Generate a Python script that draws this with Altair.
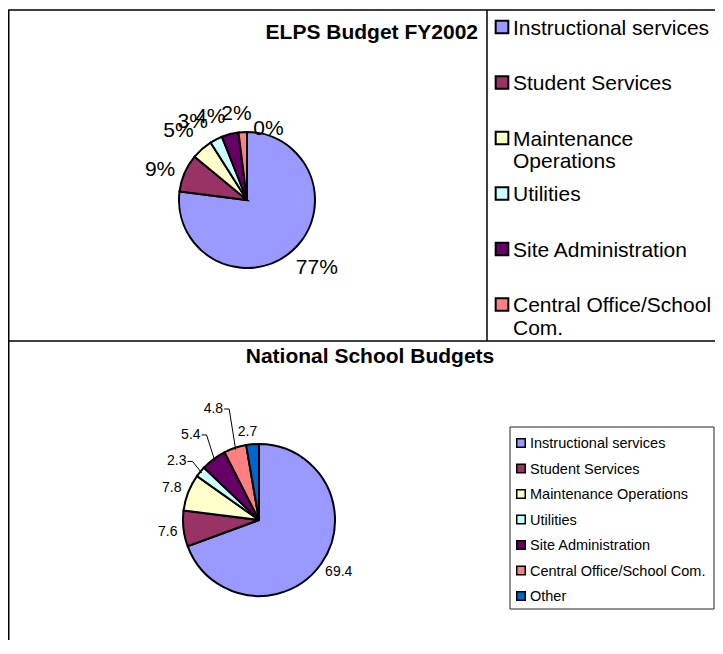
import math
import altair as alt
import pandas as pd

# ---------------- data ----------------
categories = ["Instructional services", "Student Services", "Maintenance Operations",
              "Utilities", "Site Administration", "Central Office/School Com.", "Other"]
elps_pct = [77, 9, 5, 3, 4, 2, 0]
national = [69.4, 7.6, 7.8, 2.3, 5.4, 4.8, 2.7]
elps_legend_text = ["Instructional services", "Student Services", "Maintenance\nOperations",
                    "Utilities", "Site Administration", "Central Office/School\nCom."]
palette = ["#9999FF", "#993366", "#FFFFCC", "#CCFFFF", "#660066", "#FF8080", "#0066CC"]

# ---------------- layout (label placement, pixels / percent-of-circle nudges) ----------------
FONT = "Liberation Sans"
W, H = 707, 632
TOP_CX, TOP_CY, TOP_R = 239, 192, 68
BOT_CX, BOT_CY, BOT_R = 251, 512, 76
top_label_r = [97.6, 92, 97, 95, 91, 86.6, 74]
top_label_nudge = [-1.2, -1.2, -1.0, -2.2, -2.6, -0.95, 4.7]
bot_label_r = [95, 92, 93, 101, 109, 120, 89]
bot_label_nudge = [-0.55, -0.2, -0.3, -1.1, -0.55, -1.1, -0.7]
leader_idx = [3, 4, 5]
BOT_FS = 14

color = alt.Color("cat:N", scale=alt.Scale(domain=categories, range=palette), legend=None)
theta = alt.Theta("v:Q", stack=True, scale=alt.Scale(domain=[0, 100]))
theta_mid = alt.Theta("mid:Q", stack=False, scale=alt.Scale(domain=[0, 100]))
order = alt.Order("k:Q")

top_df = pd.DataFrame({"cat": categories, "v": elps_pct, "k": list(range(7)),
                       "label": [f"{v}%" for v in elps_pct], "lr": top_label_r,
                       "nudge": top_label_nudge})
bot_df = pd.DataFrame({"cat": categories, "v": national, "k": list(range(7)),
                       "label": [f"{v:.1f}" for v in national], "lr": bot_label_r,
                       "nudge": bot_label_nudge})
one = pd.DataFrame({"a": [0]})

# leader lines for the national pie (computed from the slice angles)
rows = []
cum = 0.0
for i, v in enumerate(national):
    mid = cum + v / 2
    cum += v
    if i in leader_idx:
        a_lbl = 2 * math.pi * (mid + bot_label_nudge[i]) / 100.0
        a_edge = 2 * math.pi * mid / 100.0
        lr = bot_label_r[i]
        lx = BOT_CX + lr * math.sin(a_lbl)
        ly = BOT_CY - lr * math.cos(a_lbl)
        hw = 0.5 * BOT_FS * 1.39
        ex = BOT_CX + (BOT_R - 2) * math.sin(a_edge)
        ey = BOT_CY - (BOT_R - 2) * math.cos(a_edge)
        for s, (px, py) in enumerate([(lx + hw + 1, ly), (lx + hw + 6, ly), (ex, ey)]):
            rows.append({"g": categories[i], "s": s, "px": px, "py": py})
lines_df = pd.DataFrame(rows)


def rule(**enc):
    return alt.Chart(one).mark_rule(color="black", strokeWidth=1.5).encode(
        **{k: alt.value(v) for k, v in enc.items()})


borders = [
    rule(x=0, x2=W, y=2),
    rule(x=0.75, y=2, y2=H),
    rule(x=479, y=2, y2=333),
    rule(x=0, x2=W, y=333),
]


def labels(df):
    return alt.Chart(df).transform_window(
        cum="sum(v)", sort=[alt.SortField("k")], frame=[None, 0]
    ).transform_calculate(mid="datum.cum - datum.v / 2 + datum.nudge")


# ---------------- top pie ----------------
top_pie = alt.Chart(top_df).mark_arc(radius=TOP_R, stroke="black", strokeWidth=2).encode(
    theta=theta, color=color, order=order,
    x=alt.value(TOP_CX), y=alt.value(TOP_CY))
top_lbl = labels(top_df).mark_text(fontSize=21, font=FONT, color="black").encode(
    theta=theta_mid, radius=alt.Radius("lr:Q", scale=None),
    text="label:N", x=alt.value(TOP_CX), y=alt.value(TOP_CY))
top_title = alt.Chart(one).mark_text(text="ELPS Budget FY2002", fontSize=21, fontWeight="bold",
                                     font=FONT, align="right", baseline="middle").encode(
    x=alt.value(470), y=alt.value(25))

# ---------------- bottom pie ----------------
bot_pie = alt.Chart(bot_df).mark_arc(radius=BOT_R, stroke="black", strokeWidth=2).encode(
    theta=theta, color=color, order=order,
    x=alt.value(BOT_CX), y=alt.value(BOT_CY))
bot_lbl = labels(bot_df).mark_text(fontSize=BOT_FS, font=FONT, color="black").encode(
    theta=theta_mid, radius=alt.Radius("lr:Q", scale=None),
    text="label:N", x=alt.value(BOT_CX), y=alt.value(BOT_CY))
bot_lines = alt.Chart(lines_df).mark_line(color="black", strokeWidth=1).encode(
    x=alt.X("px:Q", scale=None), y=alt.Y("py:Q", scale=None),
    detail="g:N", order="s:Q")
bot_title = alt.Chart(one).mark_text(text="National School Budgets", fontSize=21, fontWeight="bold",
                                     font=FONT, align="center", baseline="middle").encode(
    x=alt.value(362), y=alt.value(349))

# ---------------- legends ----------------
leg_top = pd.DataFrame({"cat": categories[:6], "text": elps_legend_text})
ytop = alt.Y("cat:N", scale=alt.Scale(type="point", domain=categories[:6], range=[19, 296.5], padding=0),
             axis=None)
sq_top = alt.Chart(leg_top).mark_square(size=160, opacity=1, stroke="black", strokeWidth=2).encode(
    x=alt.value(494), y=ytop, color=color)
txt_top = alt.Chart(leg_top).mark_text(align="left", baseline="alphabetic", dy=7.5, fontSize=21,
                                       font=FONT, lineBreak="\n", lineHeight=22.5, color="black").encode(
    x=alt.value(505), y=ytop, text="text:N")

leg_bot = pd.DataFrame({"cat": categories})
ybot = alt.Y("cat:N", scale=alt.Scale(type="point", domain=categories, range=[435, 588], padding=0),
             axis=None)
box = alt.Chart(one).mark_rect(fill="white", stroke="#222222", strokeWidth=1).encode(
    x=alt.value(502), x2=alt.value(706), y=alt.value(419), y2=alt.value(601))
sq_bot = alt.Chart(leg_bot).mark_square(size=72, opacity=1, stroke="black", strokeWidth=1.5).encode(
    x=alt.value(513), y=ybot, color=color)
txt_bot = alt.Chart(leg_bot).mark_text(align="left", baseline="alphabetic", dy=5.2, fontSize=14.5,
                                       font=FONT, color="black").encode(
    x=alt.value(522), y=ybot, text="cat:N")

chart = alt.layer(
    *borders, top_pie, top_lbl, top_title,
    bot_pie, bot_lines, bot_lbl, bot_title,
    box, sq_top, txt_top, sq_bot, txt_bot,
).resolve_scale(x="independent", y="independent").properties(
    width=W, height=H, padding=0, autosize=alt.AutoSizeParams(type="none"),
).configure_view(stroke=None)

chart.save("out.html", embed_options={"renderer": "svg", "actions": False})
